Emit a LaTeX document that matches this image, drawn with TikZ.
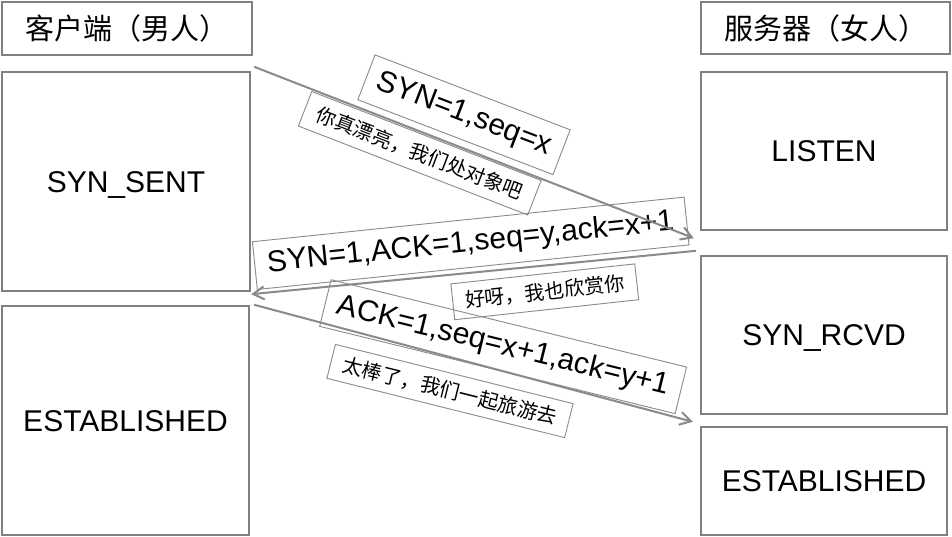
\documentclass[tikz,border=0pt]{standalone}
\usepackage{fontspec}
\setmainfont{Liberation Sans}
\newfontfamily\cjk{Noto Sans CJK SC}
\usetikzlibrary{arrows.meta,calc}
\definecolor{boxgray}{HTML}{7F7F7F}
\definecolor{linegray}{HTML}{8A8A8A}
\begin{document}
\begin{tikzpicture}[x=1pt,y=-1pt,
  box/.style={draw=boxgray, line width=2.4pt, inner sep=0pt, fill=white,
    font=\fontsize{30}{34}\selectfont, text height=21.5pt, text depth=0pt},
  titlebox/.style={draw=boxgray, line width=2.4pt, inner sep=0pt, fill=white,
    font=\cjk\fontsize{29}{33}\selectfont},
  lab/.style={draw=linegray, line width=0.9pt, inner sep=0pt,
    font=\fontsize{30}{34}\selectfont},
  cjklab/.style={lab, font=\cjk\fontsize{20}{24}\selectfont},
  msg/.style={draw=linegray, line width=2pt,
    -{Straight Barb[length=11pt,width=13pt,line width=2pt]}}]
\useasboundingbox (0,0) rectangle (952,537);
\fill[white] (0,0) rectangle (952,537);
% state boxes
\node[titlebox, minimum width=250pt, minimum height=53pt] (ctitle) at (127,28.5) {客户端（男人）};
\node[titlebox, minimum width=249pt, minimum height=52pt] (stitle) at (825.5,28) {服务器（女人）};
\node[box, minimum width=248pt, minimum height=219pt] (synsent) at (126,181.5) {SYN\_SENT};
\node[box, minimum width=247pt, minimum height=229pt] (estL) at (125.5,420.5) {ESTABLISHED};
\node[box, minimum width=246pt, minimum height=158pt] (listen) at (824,151) {LISTEN};
\node[box, minimum width=246pt, minimum height=158pt] (synrcvd) at (824,335) {SYN\_RCVD};
\node[box, minimum width=246pt, minimum height=108pt] (estR) at (824,481) {ESTABLISHED};
% arrow end points
\coordinate (a1s) at ($(synsent.north east)+(3,-4)$);
\coordinate (a1e) at ($(listen.south west)+(-6,7)$);
\coordinate (a2s) at ($(synrcvd.north west)+(-4,-4)$);
\coordinate (a2e) at ($(synsent.south east)+(0,2)$);
\coordinate (a3s) at ($(estL.north east)+(4,0)$);
\coordinate (a3e) at ($(estR.north west)+(-7,-4)$);
% labels
\node[lab, rotate=-21, minimum width=209pt, minimum height=48pt] (l1) at (464,114.75) {SYN=1,seq=x};
\node[cjklab, rotate=-21.2, minimum width=246pt, minimum height=37pt] (l2) at (419.75,153.25) {你真漂亮，我们处对象吧};
\node[lab, rotate=5.9, minimum width=434pt, minimum height=48pt] (l3) at (470.7,243.3) {SYN=1,ACK=1,seq=y,ack=x+1};
\node[cjklab, rotate=6.2, minimum width=185pt, minimum height=36pt] (l4) at (544.75,291.8) {好呀，我也欣赏你};
\node[lab, rotate=-13.8, minimum width=366pt, minimum height=48pt] (l5) at (503.1,346.7) {ACK=1,seq=x+1,ack=y+1};
\node[cjklab, rotate=-14, minimum width=245pt, minimum height=35pt] (l6) at (450,391) {太棒了，我们一起旅游去};
% messages
\draw[msg] (a1s) -- (a1e);
\draw[msg] (a2s) -- (a2e);
\draw[msg] (a3s) -- (a3e);
\end{tikzpicture}
\end{document}
